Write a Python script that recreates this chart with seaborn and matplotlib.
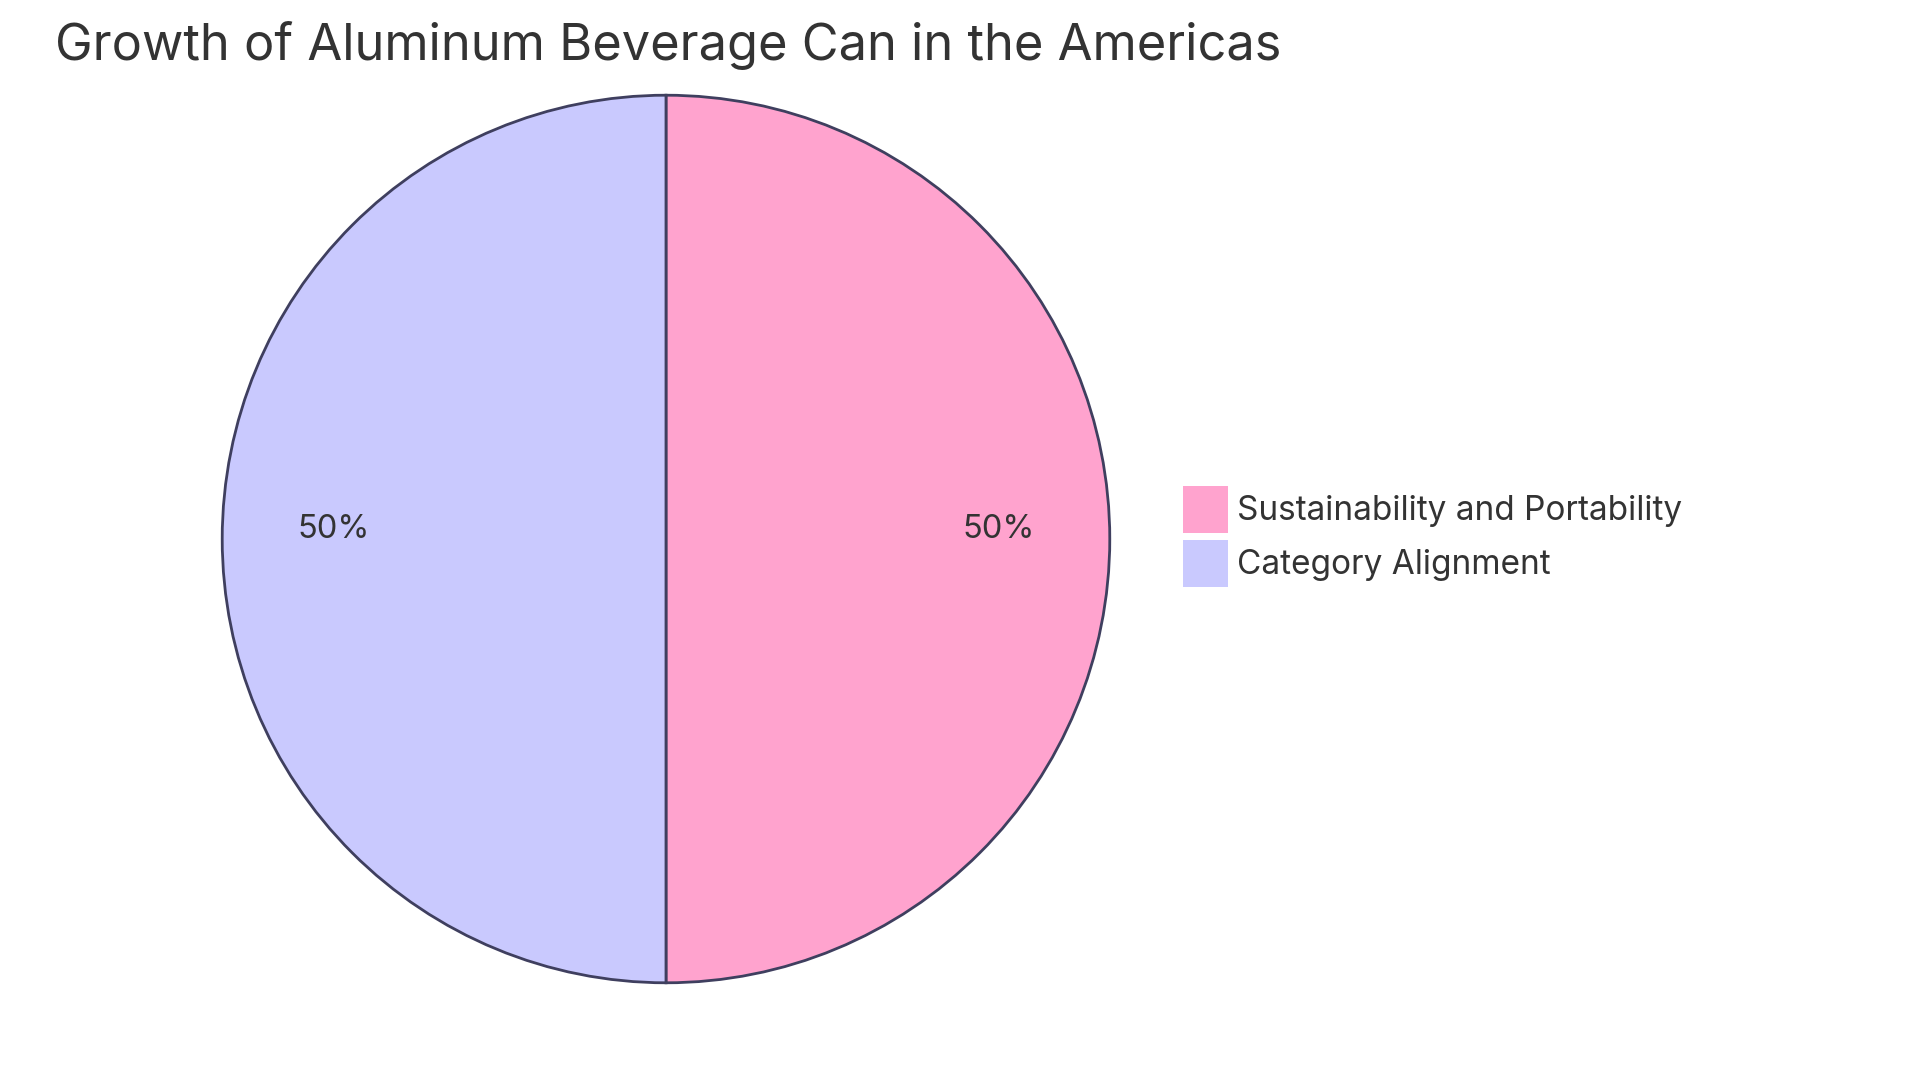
import matplotlib
matplotlib.use("Agg")
import matplotlib.pyplot as plt
import seaborn as sns

title = "Growth of Aluminum Beverage Can in the Americas"
labels = ["Sustainability and Portability", "Category Alignment"]
values = [50, 50]
colors = ["#FFA3CE", "#C9C9FE"]

sns.set_theme(style="white")
plt.rcParams["font.family"] = ["Inter", "DejaVu Sans"]

W, H = 1920, 1080
fig = plt.figure(figsize=(W / 100, H / 100), dpi=100)
fig.patch.set_facecolor("white")

cx, cy, r = 666, 539, 446
ax = fig.add_axes([(cx - r) / W, (H - cy - r) / H, 2 * r / W, 2 * r / H])
wedges, texts, autotexts = ax.pie(
    values,
    colors=colors,
    startangle=90,
    counterclock=False,
    autopct="%1.0f%%",
    pctdistance=0.75,
    wedgeprops=dict(edgecolor="#3F3F5F", linewidth=2.0),
    textprops=dict(fontsize=23.5, color="#333333"),
)
for t in autotexts:
    x, y = t.get_position()
    t.set_position((x, y + 0.022))
ax.set_xlim(-1.005, 1.005)
ax.set_ylim(-1.005, 1.005)
ax.set_aspect("equal")
ax.axis("off")

fig.text(55 / W, 1 - 46 / H, title, fontsize=36.4, color="#333333",
         ha="left", va="center")

fs = 24
leg = fig.legend(
    wedges, labels,
    loc="upper left",
    bbox_to_anchor=(1183 / W, 1 - 486 / H),
    bbox_transform=fig.transFigure,
    frameon=False,
    fontsize=fs,
    handlelength=1.35,
    handleheight=1.79,
    handletextpad=0.27,
    labelspacing=0.2,
    borderpad=0,
    borderaxespad=0,
)
for h in leg.legend_handles:
    h.set_edgecolor("none")
for t in leg.get_texts():
    t.set_color("#333333")

fig.savefig("out.png", dpi=100, facecolor="white")
